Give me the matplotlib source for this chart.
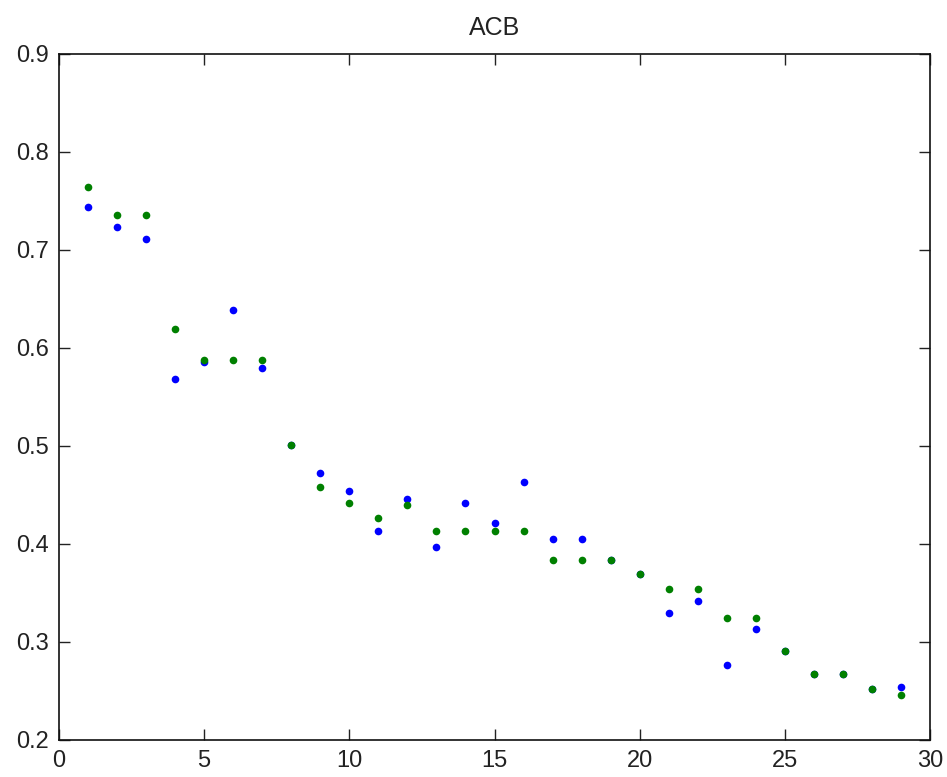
import numpy as np
import matplotlib.pyplot as plt

plt.rcParams['font.family'] = ['Liberation Sans', 'DejaVu Sans']

x = np.arange(1, 30)

# blue series (hidden under green where they coincide)
blue = [0.744, 0.723, 0.711, 0.568, 0.586, 0.639, 0.580, 0.501, 0.472, 0.454,
        0.413, 0.446, 0.397, 0.442, 0.421, 0.463, 0.405, 0.405, 0.384, 0.369,
        0.330, 0.342, 0.277, 0.313, 0.291, 0.267, 0.267, 0.252, 0.254]

green = [0.764, 0.736, 0.736, 0.619, 0.588, 0.588, 0.588, 0.501, 0.458, 0.442,
         0.427, 0.440, 0.413, 0.413, 0.413, 0.413, 0.384, 0.384, 0.384, 0.369,
         0.354, 0.354, 0.325, 0.325, 0.291, 0.267, 0.267, 0.252, 0.246]

fig = plt.figure(figsize=(9.47, 7.77), dpi=100)
ax = fig.add_axes([59/947, 1 - 740/777, (930-59)/947, (740-54)/777])

ax.plot(x, blue, 'o', color=(0, 0, 1), markersize=5.5, markeredgewidth=0)
ax.plot(x, green, 'o', color=(0, 0.5, 0), markersize=5.5, markeredgewidth=0)

ax.set_xlim(0, 30)
ax.set_ylim(0.2, 0.9)
ax.set_xticks(np.arange(0, 31, 5))
yt = np.arange(0.2, 0.91, 0.1)
ax.set_yticks(yt)
ax.set_yticklabels([f"{v:.1f}" for v in yt])
ax.tick_params(direction='in', top=True, right=True, length=8, width=1.0,
               labelsize=17, pad=7, colors='#222222')
for s in ax.spines.values():
    s.set_linewidth(1.2)
    s.set_color('#111111')

ax.set_title("ACB", fontsize=18, pad=14, color='#222222')

fig.savefig("out.png", dpi=100)
